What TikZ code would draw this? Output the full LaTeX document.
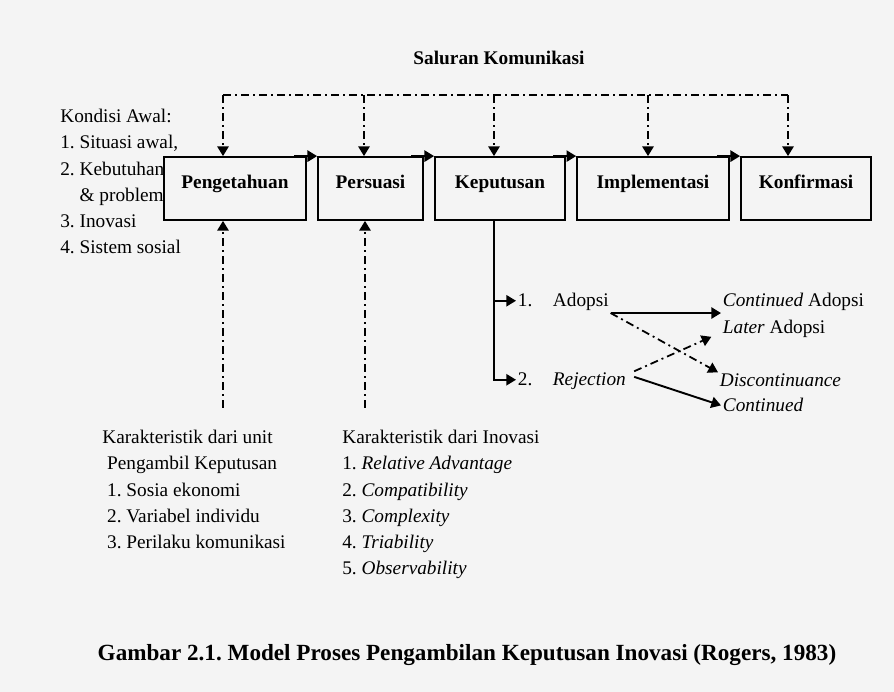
\documentclass[tikz,border=0pt,12pt]{standalone}
\usepackage{fontspec}
\setmainfont{Liberation Serif}
\usetikzlibrary{arrows.meta}
\frenchspacing

\definecolor{latar}{RGB}{244,244,244}
\tikzset{
  tahap/.style={draw, line width=1.1pt, fill=latar, inner sep=0pt, text height=19.3pt, text depth=19.9pt, font=\bfseries},
  dd/.style={line width=1.1pt, dash pattern=on 5pt off 2.5pt on 1.2pt off 2.5pt},
  ujung/.style={-{Triangle[length=6pt,width=7pt]}},
  panah/.style={line width=1.2pt, -{Triangle[length=6pt,width=7pt]}},
  garis/.style={line width=1pt},
  teks/.style={align=left, inner sep=0pt, font=\fontsize{12}{16.3}\selectfont},
  lbl/.style={anchor=base west, inner sep=1pt},
}

\begin{document}
\begin{tikzpicture}[x=0.622pt,y=-0.622pt]
    \fill[latar] (0,0) rectangle (894,692);

    \node[font=\bfseries, anchor=base] (SK) at (499,65) {Saluran Komunikasi};

    % kondisi awal
    \node[teks, anchor=north west] (KA) at (60,109) {Kondisi Awal:\\1. Situasi awal,\\2. Kebutuhan\\\hspace*{12pt}\& problem\\3. Inovasi\\4. Sistem sosial};

    % tahapan
    \node[tahap, minimum width=88.3pt] (P) at (235,188.5) {Pengetahuan};
    \node[tahap, minimum width=65.3pt] (S) at (370.5,188.5) {Persuasi};
    \node[tahap, minimum width=80.9pt] (K) at (500,188.5) {Keputusan};
    \node[tahap, minimum width=94.5pt] (I) at (653,188.5) {Implementasi};
    \node[tahap, minimum width=80.9pt] (F) at (806,188.5) {Konfirmasi};
    \draw[panah] ([xshift=-8pt]P.north east) -- (S.north west);
    \draw[panah] ([xshift=-8pt]S.north east) -- (K.north west);
    \draw[panah] ([xshift=-8pt]K.north east) -- (I.north west);
    \draw[panah] ([xshift=-8pt]I.north east) -- (F.north west);

    % saluran komunikasi
    \coordinate (a1) at (223,95);
    \coordinate (a2) at (364,95);
    \coordinate (a3) at (494,95);
    \coordinate (a4) at (648,95);
    \coordinate (a5) at (788,95);
    \draw[dd] (a1) -- (a5);
    \draw[dd,ujung] (a1) -- (a1 |- P.north);
    \draw[dd,ujung] (a2) -- (a2 |- S.north);
    \draw[dd,ujung] (a3) -- (a3 |- K.north);
    \draw[dd,ujung] (a4) -- (a4 |- I.north);
    \draw[dd,ujung] (a5) -- (a5 |- F.north);

    % karakteristik
    \node[teks, anchor=north west] (U) at (102,430) {Karakteristik dari unit\\\hspace*{3pt}Pengambil Keputusan\\\hspace*{3pt}1. Sosia ekonomi\\\hspace*{3pt}2. Variabel individu\\\hspace*{3pt}3. Perilaku komunikasi};
    \node[teks, anchor=north west] (V) at (342,430) {Karakteristik dari Inovasi\\1. \textit{Relative Advantage}\\2. \textit{Compatibility}\\3. \textit{Complexity}\\4. \textit{Triability}\\5. \textit{Observability}};
    \coordinate (b1) at (223,408);
    \coordinate (b2) at (365,408);
    \draw[dd,ujung] (b1) -- (b1 |- P.south);
    \draw[dd,ujung] (b2) -- (b2 |- S.south);

    % keputusan
    \node[lbl] (n1) at (516,307) {1.};
    \node[lbl] (n2) at (516,386) {2.};
    \node[lbl] (A) at (551,307) {Adopsi};
    \node[lbl] (R) at (551,386) {\textit{Rejection}};
    \node[lbl] (CA) at (721,307) {\textit{Continued} Adopsi};
    \node[lbl] (L) at (721,334) {\textit{Later} Adopsi};
    \node[lbl] (D) at (718,387) {\textit{Discontinuance}};
    \node[lbl] (C) at (721,412) {\textit{Continued}};
    \draw[garis,ujung] ([xshift=-3.7pt]K.south) |- (n2.west);
    \draw[garis,ujung] ([xshift=-3.7pt]K.south |- n1.west) -- (n1.west);
    \draw[panah] (A.south east) -- (A.south east -| CA.west);
    \draw[dd,ujung] (A.south east) -- (D.north west);
    \draw[dd,ujung] ([xshift=4pt]R.north east) -- ([xshift=-6pt,yshift=2pt]L.south west);
    \draw[panah] ([xshift=4pt,yshift=3pt]R.east) -- (C.west);

    \node[font=\bfseries\fontsize{14.4}{17}\selectfont, anchor=base] (G) at (467,661) {Gambar 2.1. Model Proses Pengambilan Keputusan Inovasi (Rogers, 1983)};
\end{tikzpicture}
\end{document}
